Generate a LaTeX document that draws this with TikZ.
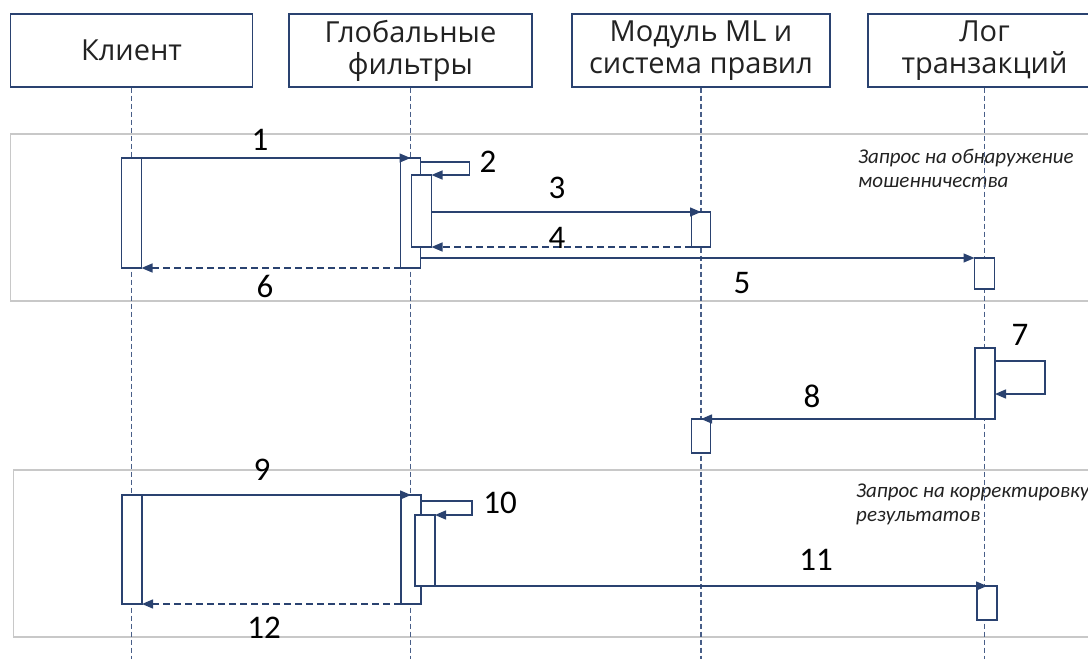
\documentclass[tikz,border=0pt]{standalone}
\usepackage{fontspec}
\setmainfont{Open Sans}
\newfontfamily\calibri{Carlito}
\usetikzlibrary{arrows.meta}
\definecolor{seqblue}{RGB}{42,66,112}
\definecolor{lifeblue}{RGB}{72,94,136}
\definecolor{framegray}{RGB}{200,200,200}
\definecolor{textgray}{RGB}{34,34,34}

\begin{document}
\begin{tikzpicture}[
  x=1pt, y=-1pt,
  head/.style={draw=seqblue, line width=1.3pt, fill=white, rectangle, minimum height=73pt, align=center, text=textgray, font=\fontsize{29}{32}\selectfont},
  act/.style={draw=seqblue, line width=1.3pt, fill=white, rectangle, minimum width=20pt, inner sep=0pt, outer sep=0pt, anchor=north},
  life/.style={draw=lifeblue, line width=1.1pt, dash pattern=on 5pt off 3pt},
  msg/.style={draw=seqblue, line width=1.4pt, -{Triangle[length=11pt,width=9pt]}},
  reply/.style={msg, dash pattern=on 7pt off 4pt},
  num/.style={font=\calibri\fontsize{33}{38}\selectfont, inner sep=0pt},
  note/.style={font=\calibri\itshape\fontsize{21}{24}\selectfont, text=textgray, align=left, anchor=west, inner sep=0pt},
  frame/.style={draw=framegray, line width=1.2pt}
]
\useasboundingbox (0,0) rectangle (1088,659);

% Frames
\draw[frame] (10.5,134) rectangle (1100,301);
\draw[frame] (13.5,470) rectangle (1100,637);

% Heads left to right
\node[head, minimum width=242pt] (client) at (131.5,50.5) {Клиент};
\node[head, minimum width=243pt] (filters) at (410.5,50.5) {Глобальные\\фильтры};
\node[head, minimum width=258pt] (ml) at (701,50.5) {Модуль ML и\\система правил};
\node[head, minimum width=233pt] (log) at (984.5,50.5) {Лог\\транзакций};

% Notes
\node[note] (note1) at (858,168) {Запрос на обнаружение\\мошенничества};
\node[note] (note2) at (856,504) {Запрос на корректировку\\результатов};

% Lifelines
\coordinate (bottom) at (0,660);
\foreach \n in {client,filters,ml,log}
  \draw[life] (\n.south) -- (\n.south |- bottom);

% Activations
\node[act, minimum height=110pt] (c1) at (131.5,158) {};
\node[act, minimum height=110pt] (f1) at (410.5,158) {};
\node[act, minimum height=72pt] (f1n) at (421.5,175) {};
\node[act, minimum height=35pt, minimum width=19pt] (m1) at (701,212) {};
\node[act, minimum height=31pt] (l1) at (984.5,258) {};
\node[act, minimum height=71pt] (l2) at (985,348) {};
\node[act, minimum height=34pt, minimum width=19pt] (m2) at (701,419) {};
\node[act, minimum height=109pt] (c2) at (132,495) {};
\node[act, minimum height=109pt] (f2) at (411,495) {};
\node[act, minimum height=71pt] (f2n) at (425,515) {};
\node[act, minimum height=34pt] (l3) at (987,586) {};

% Messages
\draw[msg] (c1.north east) -- (f1.north);
\draw[msg] (f1.north east) ++(0,4) -- ++(49,0) |- (f1n.north east);
\draw[msg] (f1n.east |- m1.north) -- (m1.north);
\draw[reply] (m1.south west) -- (f1n.south east);
\draw[msg] (f1.east |- l1.north) -- (l1.north west);
\draw[reply] (f1.south west) -- (c1.south east);
\draw[msg] (l2.north east) ++(0,13) -- ++(50,0) -- ++(0,33) -- ++(-50,0);
\draw[msg] (l2.south west) -- (m2.north);
\draw[msg] (c2.north east) -- (f2.north);
\draw[msg] (f2.north east) ++(0,6) -- ++(51,0) |- (f2n.north east);
\draw[msg] (f2n.south east) -- (l3.north);
\draw[reply] (f2.south west) -- (c2.south east);

% Numbers
\node[num] (n1) at (260,140) {1};
\node[num] (n2) at (488,162) {2};
\node[num] (n3) at (557,188) {3};
\node[num] (n4) at (557,238) {4};
\node[num] (n5) at (742,283) {5};
\node[num] (n6) at (265,286) {6};
\node[num] (n7) at (1020,335) {7};
\node[num] (n8) at (812,396) {8};
\node[num] (n9) at (262,470) {9};
\node[num] (n10) at (500,503) {10};
\node[num] (n11) at (816,560) {11};
\node[num] (n12) at (264,628) {12};

\end{tikzpicture}
\end{document}
